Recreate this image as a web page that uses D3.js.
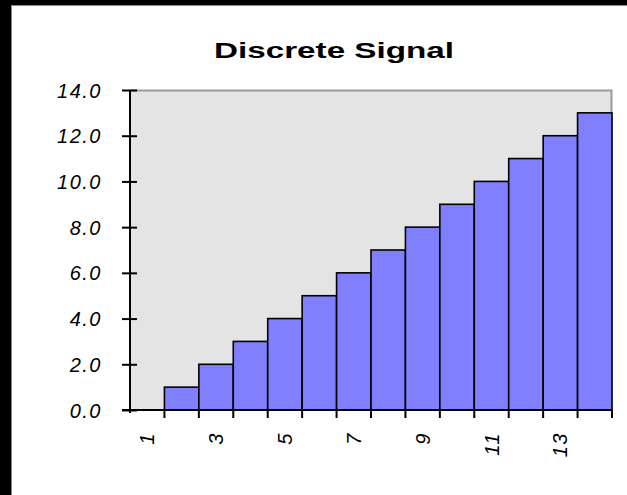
<!DOCTYPE html>
<html>
<head>
<meta charset="utf-8">
<script src="https://cdn.jsdelivr.net/npm/d3@7"></script>
<style>
  html, body { margin: 0; padding: 0; background: #fff; overflow: hidden; }
  svg { display: block; }
  .tick-label { font-family: "Liberation Sans", Arial, sans-serif; font-style: italic; font-size: 20px; letter-spacing: 1.5px; fill: #000; }
</style>
</head>
<body>
<div id="chart"></div>
<script>
const categories = [1, 2, 3, 4, 5, 6, 7, 8, 9, 10, 11, 12, 13, 14];
const values = [0, 1, 2, 3, 4, 5, 6, 7, 8, 9, 10, 11, 12, 13];
const yTicks = [0, 2, 4, 6, 8, 10, 12, 14];
const xLabels = [1, 3, 5, 7, 9, 11, 13];

const W = 627, H = 495;
const margin = { top: 90, right: 15, bottom: 85, left: 130 };
const width = W - margin.left - margin.right;
const height = H - margin.top - margin.bottom;

const root = d3.select("#chart").append("svg")
  .attr("width", W)
  .attr("height", H);

// frame: black on left and top, white page inside
root.append("rect").attr("width", W).attr("height", H).attr("fill", "#000");
root.append("rect").attr("x", 11).attr("y", 5).attr("width", W - 11).attr("height", H - 5).attr("fill", "#888");
root.append("rect").attr("x", 12).attr("y", 6).attr("width", W - 12).attr("height", H - 6).attr("fill", "#fff");

root.append("text")
  .attr("x", 334)
  .attr("y", 58)
  .attr("text-anchor", "middle")
  .attr("textLength", 240)
  .attr("lengthAdjust", "spacingAndGlyphs")
  .style("font-family", "'Liberation Sans', Arial, sans-serif")
  .style("font-weight", "bold")
  .style("font-size", "22px")
  .text("Discrete Signal");

const svg = root.append("g")
  .attr("transform", "translate(" + margin.left + "," + margin.top + ")");

const x = d3.scaleBand()
  .domain(categories)
  .range([0, width])
  .padding(0);
const y = d3.scaleLinear()
  .domain([0, 14])
  .range([height, 0]);

// plot area
svg.append("rect")
  .attr("width", width)
  .attr("height", height)
  .attr("fill", "#e4e4e4");
svg.append("path")
  .attr("d", "M0,0.5H" + (width - 0.5) + "V" + height)
  .attr("fill", "none")
  .attr("stroke", "#999")
  .attr("stroke-width", 2);

// bars
svg.selectAll("rect.bar")
  .data(values)
  .enter().append("rect")
  .attr("class", "bar")
  .attr("x", function(d, i) { return x(categories[i]); })
  .attr("y", function(d) { return y(d); })
  .attr("width", x.bandwidth())
  .attr("height", function(d) { return height - y(d); })
  .attr("fill", "#8080ff")
  .attr("stroke", "#000")
  .attr("stroke-width", 1.6);

// y axis
const yAxis = svg.append("g")
  .call(d3.axisLeft(y).tickValues(yTicks).tickSizeInner(8).tickSizeOuter(0).tickPadding(0)
    .tickFormat(d3.format(".1f")));
yAxis.select(".domain").attr("stroke", "#000").attr("stroke-width", 2)
  .attr("d", "M0,0V" + (height + 3));
yAxis.selectAll(".tick line").attr("x1", 7).attr("x2", -8).attr("stroke", "#000").attr("stroke-width", 2);
yAxis.selectAll(".tick text")
  .attr("class", "tick-label")
  .attr("x", -28)
  .attr("dy", "0.35em");
yAxis.attr("font-size", null).attr("font-family", null);

// x axis line and boundary ticks
svg.append("line")
  .attr("x1", -8).attr("x2", width)
  .attr("y1", height).attr("y2", height)
  .attr("stroke", "#000").attr("stroke-width", 2);
const bounds = categories.map(function(c) { return x(c); }).concat([width]);
svg.selectAll("line.xtick")
  .data(bounds.slice(1))
  .enter().append("line")
  .attr("class", "xtick")
  .attr("x1", function(d) { return d; })
  .attr("x2", function(d) { return d; })
  .attr("y1", height)
  .attr("y2", height + 8)
  .attr("stroke", "#000")
  .attr("stroke-width", 2);

const xAxis = svg.append("g")
  .attr("transform", "translate(0," + height + ")")
  .call(d3.axisBottom(x).tickValues(xLabels).tickSize(0));
xAxis.select(".domain").remove();
xAxis.attr("font-size", null).attr("font-family", null);
xAxis.selectAll(".tick text")
  .attr("class", "tick-label")
  .attr("transform", "rotate(-90)")
  .attr("x", -22)
  .attr("y", 0)
  .attr("dy", "0.35em")
  .style("text-anchor", "end");
</script>
</body>
</html>
